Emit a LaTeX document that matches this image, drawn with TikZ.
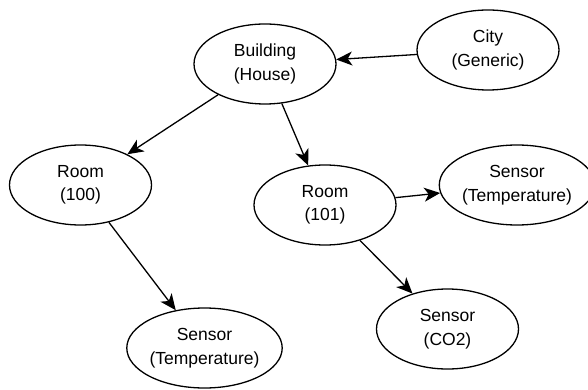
\documentclass[tikz,border=0pt]{standalone}
\usepackage{fontspec}
\setmainfont{Liberation Sans}
\usetikzlibrary{shapes.geometric,arrows.meta}
\begin{document}
\begin{tikzpicture}[x=1pt,y=-1pt,
  ent/.style={ellipse,draw,line width=1.3pt,minimum width=142pt,minimum height=80pt,inner sep=0pt,align=center,font=\fontsize{17.5}{23.5}\selectfont},
  link/.style={line width=1.3pt,-{Stealth[length=16pt,width=14pt,inset=4.5pt]}}]
\useasboundingbox (0,0) rectangle (588,390);
\node[ent] (building) at (265,64) {Building\\(House)};
\node[ent] (city) at (488,50) {City\\(Generic)};
\node[ent] (room100) at (80.5,185) {Room\\(100)};
\node[ent] (room101) at (325,205) {Room\\(101)};
\node[ent] (sensorR) at (517,185) {Sensor\\(Temperature)};
\node[ent] (sensorCO) at (447.5,329) {Sensor\\(CO2)};
\node[ent] (sensorB) at (204.5,348) {Sensor\\(Temperature)};
\draw[link] (city) -- (building);
\draw[link] (building) -- (room100);
\draw[link] (building) -- (room101);
\draw[link] (room100) -- (sensorB);
\draw[link] (room101) -- (sensorR);
\draw[link] (room101) -- (sensorCO);
\end{tikzpicture}
\end{document}
